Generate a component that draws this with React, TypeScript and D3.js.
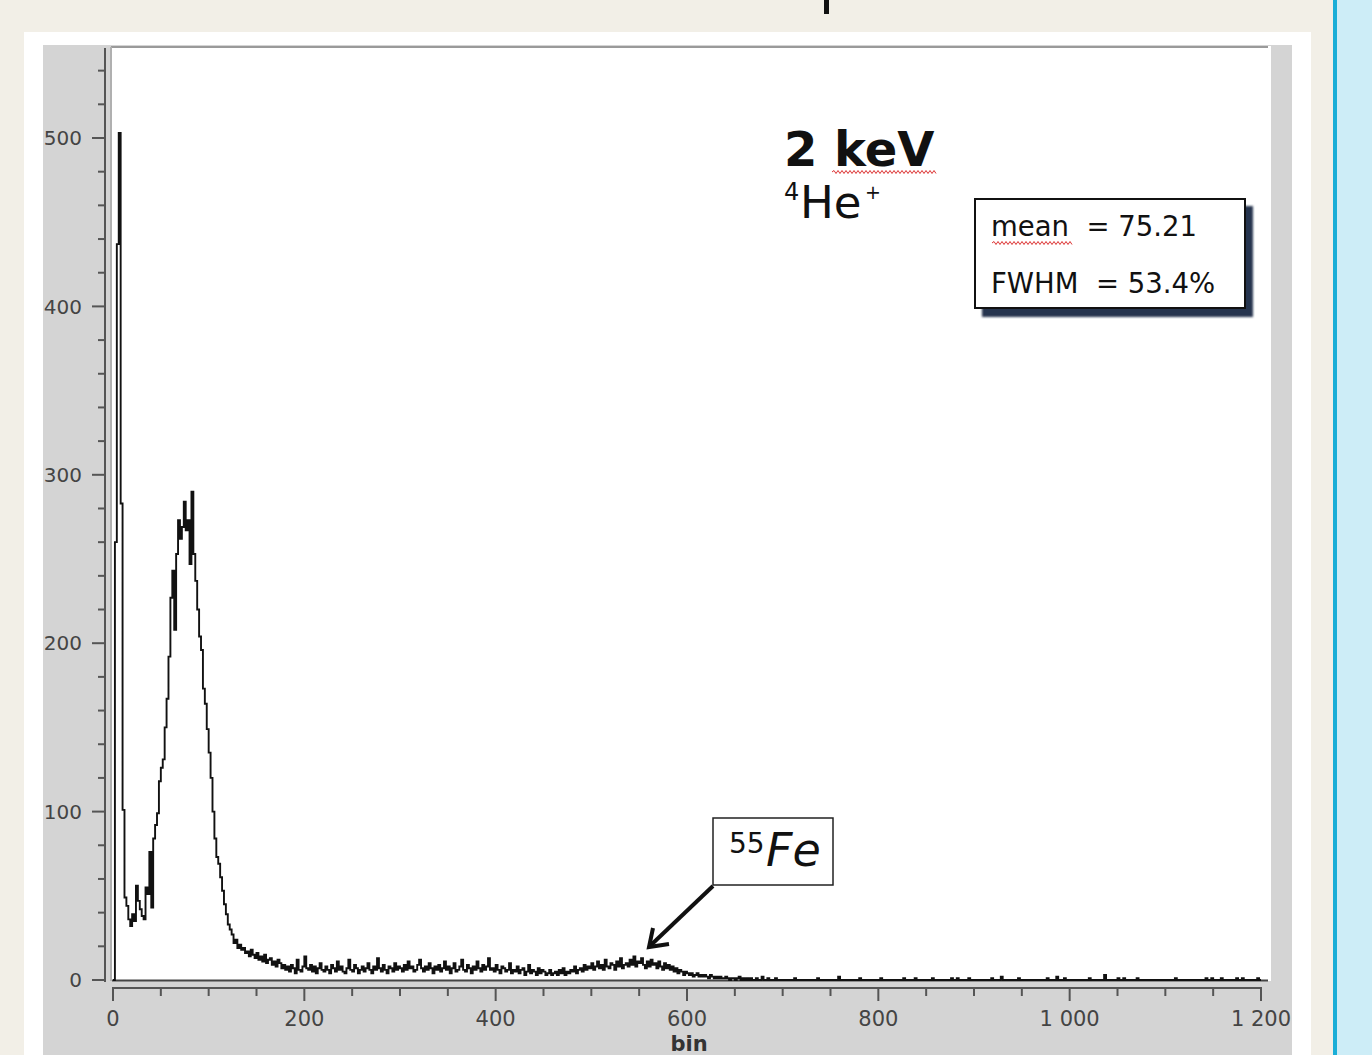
import React from "react";
import * as d3 from "d3";

// ---------- DATA ----------
const binWidth = 2;
// counts per 2-bin channel from bin 0 to 700
const counts: number[] = [
  0, 260, 437, 503, 283, 101, 49, 44, 36, 32, 39, 35, 56, 47, 42, 38, 36, 55, 51, 76,
  43, 84, 92, 99, 118, 126, 131, 150, 167, 192, 227, 243, 208, 253, 273, 262, 269, 284, 267, 273,
  247, 290, 253, 237, 220, 204, 196, 173, 164, 149, 135, 120, 100, 84, 73, 69, 61, 53, 45, 39,
  33, 30, 27, 22, 24, 19, 21, 18, 19, 16,
  17, 14, 18, 15, 13, 16, 12, 14, 11, 15, 10, 12, 13, 9, 11, 8, 12, 10, 7, 9,
  6, 8, 5, 9, 7, 4, 12, 6, 5, 8, 14, 7, 6, 9, 5, 8, 4, 7, 10, 6,
  5, 8, 6, 4, 9, 7, 5, 11, 6, 8, 5, 4, 7, 12, 6, 5, 9, 7, 4, 6,
  8, 5, 7, 10, 6, 4, 8, 6, 13, 7, 5, 9, 6, 4, 8, 7, 5, 10, 6, 8,
  7, 5, 9, 6, 11, 7, 8, 5, 6, 9, 12, 7, 5, 8, 6, 10, 7, 4, 8, 6,
  9, 5, 7, 11, 6, 8, 4, 7, 10, 5, 6, 8, 12, 6, 5, 9, 7, 4, 8, 6,
  11, 7, 5, 9, 6, 8, 13, 6, 7, 5, 9, 6, 4, 8, 7, 5, 6, 10, 4, 6,
  5, 8, 4, 6, 7, 3, 5, 9, 4, 6, 5, 3, 7, 4, 6, 5, 3, 4, 6, 3,
  4, 5, 3, 6, 4, 7, 3, 5, 4, 6, 5, 8, 4, 6, 7, 5, 9, 6, 8, 7,
  10, 6, 8, 11, 7, 9, 6, 12, 8, 7, 10, 9, 6, 11, 8, 13, 7, 9, 10, 8,
  12, 9, 14, 8, 11, 10, 13, 9, 7, 11, 8, 12, 9, 10, 7, 11, 8, 6, 10, 7,
  9, 6, 8, 5, 7, 4, 6, 5, 3, 5, 4, 3, 4, 2, 3, 4, 2, 3, 2, 3,
  2, 1, 3, 2, 1, 2, 1, 2, 1, 1, 2, 1, 0, 1, 1, 0, 1, 2, 0, 1,
  0, 1, 0, 1, 0, 0, 1, 0, 0, 2, 0, 0, 1, 0, 0, 0, 1, 0, 0, 0,
];
// sparse counts above bin 700: [bin, count]
const tailEvents: [number, number][] = [
  [712, 1], [736, 1], [758, 2], [781, 1], [803, 1], [826, 1], [838, 1], [856, 1],
  [876, 1], [882, 1], [895, 1], [918, 1], [929, 2], [946, 1], [976, 1], [986, 2],
  [994, 1], [1020, 1], [1036, 3], [1050, 1], [1056, 1], [1070, 1], [1110, 1],
  [1143, 1], [1148, 1], [1158, 1], [1175, 1], [1180, 1], [1197, 1],
];
const xTicksMajor = [0, 200, 400, 600, 800, 1000, 1200];
const xTickLabels = ["0", "200", "400", "600", "800", "1 000", "1 200"];
const yTicksMajor = [0, 100, 200, 300, 400, 500];
const statsLines = ["mean  = 75.21", "FWHM  = 53.4%"];

// ---------- helpers ----------
function squiggle(x0: number, x1: number, y: number) {
  let d = `M${x0},${y}`;
  let up = true;
  for (let x = x0 + 2; x <= x1; x += 2) {
    d += ` L${x},${y + (up ? -1.5 : 1.5)}`;
    up = !up;
  }
  return d;
}

export default function App() {
  const W = 1372, H = 1055;
  const x = d3.scaleLinear().domain([0, 1200]).range([113, 1261]);
  const y = d3.scaleLinear().domain([0, 500]).range([980, 138]);

  const nBins = 600;
  const full: number[] = new Array(nBins).fill(0);
  counts.forEach((c, i) => (full[i] = c));
  tailEvents.forEach(([b, c]) => {
    const i = Math.floor(b / binWidth);
    full[i] = Math.max(full[i], c);
  });
  const pts: [number, number][] = full.map((c, i) => [i * binWidth, c]);
  pts.push([nBins * binWidth, 0]);
  const line = d3
    .line<[number, number]>()
    .x((d) => x(d[0]))
    .y((d) => y(d[1]))
    .curve(d3.curveStepAfter);

  const xMinor = d3.range(0, 1201, 50).filter((v) => v % 200 !== 0);
  const yMinor = d3.range(0, 541, 20).filter((v) => v % 100 !== 0);

  const font = "'DejaVu Sans', Verdana, sans-serif";

  return (
    <svg
      width={W}
      height={H}
      style={{ position: "absolute", left: 0, top: 0 }}
      xmlns="http://www.w3.org/2000/svg"
    >
      <defs>
        <filter id="blur" x="-10%" y="-10%" width="120%" height="120%">
          <feGaussianBlur stdDeviation="1.2" />
        </filter>
      </defs>
      {/* page backgrounds */}
      <rect x={0} y={0} width={W} height={H} fill="#f2efe7" />
      <rect x={1337} y={0} width={35} height={H} fill="#cdedf7" />
      <rect x={1333} y={0} width={4} height={H} fill="#1aaed7" />
      <rect x={824} y={0} width={5} height={14} fill="#111" />

      {/* white slide panel */}
      <rect x={24} y={32} width={1287} height={H - 32} fill="#ffffff" />
      {/* gray chart panel */}
      <rect x={43} y={45} width={1249} height={H - 45} fill="#d4d4d4" />
      {/* plot area */}
      <rect x={111} y={46} width={1160} height={935} fill="#ffffff" />
      <line x1={111} x2={1268} y1={47} y2={47} stroke="#9a9a9a" strokeWidth={2} />
      <line x1={111} x2={111} y1={47} y2={981} stroke="#b0b0b0" strokeWidth={2} />
      <line x1={112} x2={1268} y1={980.5} y2={980.5} stroke="#444" strokeWidth={2} />

      {/* Y axis */}
      <line x1={105} x2={105} y1={48} y2={982} stroke="#555" strokeWidth={2} />
      {yMinor.map((v) => (
        <line key={"ym" + v} x1={98} x2={105} y1={y(v)} y2={y(v)} stroke="#555" strokeWidth={2} />
      ))}
      {yTicksMajor.map((v) => (
        <g key={"yM" + v}>
          <line x1={92} x2={105} y1={y(v)} y2={y(v)} stroke="#555" strokeWidth={2} />
          <text
            x={82}
            y={y(v)}
            dy="0.36em"
            textAnchor="end"
            fontFamily={font}
            fontSize={20}
            fill="#444"
          >
            {v}
          </text>
        </g>
      ))}

      {/* X axis */}
      <line x1={112} x2={1262} y1={988} y2={988} stroke="#555" strokeWidth={2} />
      {xMinor.map((v) => (
        <line key={"xm" + v} x1={x(v)} x2={x(v)} y1={988} y2={996} stroke="#555" strokeWidth={2} />
      ))}
      {xTicksMajor.map((v, i) => (
        <g key={"xM" + v}>
          <line x1={x(v)} x2={x(v)} y1={988} y2={1001} stroke="#555" strokeWidth={2} />
          <text
            x={x(v)}
            y={1026}
            textAnchor="middle"
            fontFamily={font}
            fontSize={21}
            fill="#444"
          >
            {xTickLabels[i]}
          </text>
        </g>
      ))}
      <text x={689} y={1051} textAnchor="middle" fontFamily={font} fontSize={21} fontWeight="bold" fill="#333">
        bin
      </text>

      {/* histogram */}
      <path d={line(pts) || ""} fill="none" stroke="#111" strokeWidth={1.9} />

      {/* annotations */}
      <text x={784} y={166} fontFamily={font} fontSize={48} fontWeight="bold" fill="#111">
        2 keV
      </text>
      <path d={squiggle(832, 936, 172)} fill="none" stroke="#d33" strokeWidth={1} />
      <text x={784} y={200} fontFamily={font} fontSize={24} fill="#111">4</text>
      <text x={800} y={218} fontFamily={font} fontSize={45} fill="#111">He</text>
      <text x={865} y={199} fontFamily={font} fontSize={19} fill="#111">+</text>

      {/* stats box */}
      <rect x={982} y={206} width={271} height={111} fill="#26354f" filter="url(#blur)" />
      <rect x={975} y={199} width={270} height={109} fill="#fff" stroke="#111" strokeWidth={2} />
      {statsLines.map((s, i) => (
        <text
          key={s}
          x={991}
          y={236 + i * 57}
          fontFamily={font}
          fontSize={27.5}
          fill="#111"
          style={{ whiteSpace: "pre" }}
        >
          {s}
        </text>
      ))}
      <path d={squiggle(992, 1072, 243)} fill="none" stroke="#d33" strokeWidth={1} />

      {/* 55Fe label */}
      <rect x={713} y={818} width={120} height={67} fill="#fff" stroke="#222" strokeWidth={1.5} />
      <text x={729} y={853} fontFamily={font} fontSize={28} fill="#111">55</text>
      <text x={766} y={866} fontFamily={font} fontSize={46} fontStyle="italic" fill="#111">Fe</text>
      <line x1={713} y1={886} x2={651} y2={945} stroke="#111" strokeWidth={4} />
      <polyline
        points="653,928 649,947 669,944"
        fill="none"
        stroke="#111"
        strokeWidth={4}
        strokeLinejoin="miter"
      />
    </svg>
  );
}
